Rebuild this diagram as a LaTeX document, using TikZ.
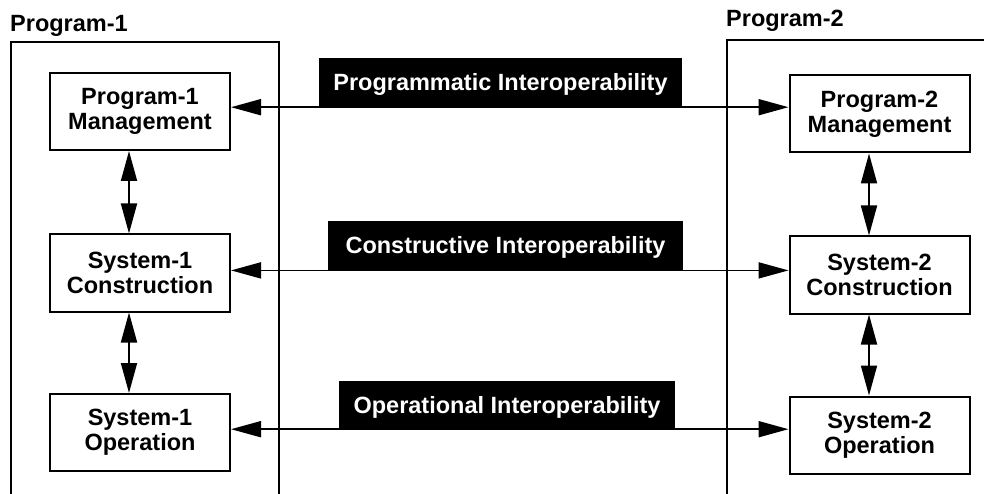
\documentclass[tikz,border=0pt]{standalone}
\usepackage{fontspec}
\setmainfont{Liberation Sans}
\usetikzlibrary{arrows.meta}
\begin{document}
\begin{tikzpicture}[x=1pt,y=-1pt,
  every node/.style={font=\fontsize{23.5}{25}\selectfont\bfseries},
  sysbox/.style={draw, line width=2pt, minimum width=180pt, minimum height=77pt, align=center, inner sep=0pt},
  tag/.style={fill=black, text=white, minimum height=49pt, inner sep=0pt, text height=16.5pt, text depth=0pt},
  link/.style={line width=1.8pt, {Triangle[length=30pt,width=16pt]}-{Triangle[length=30pt,width=16pt]}},
  frameline/.style={line width=1.7pt},
  title/.style={anchor=base west, inner sep=0pt}]
\useasboundingbox (0,0) rectangle (984,494);
% program frames
\draw[frameline] (11,494) -- (11,42) -- (279,42) -- (279,494);
\draw[frameline] (727,494) -- (727,40) -- (984,40);
\node[title] (L1) at (10,32) {Program-1};
\node[title] (L2) at (726,27) {Program-2};
% boxes
\node[sysbox] (P1M) at (140,111.5) {Program-1\\Management};
\node[sysbox] (S1C) at (140,273) {System-1\\Construction};
\node[sysbox] (S1O) at (140,432.5) {System-1\\Operation};
\node[sysbox] (P2M) at (879.5,114) {Program-2\\Management};
\node[sysbox] (S2C) at (879.5,275) {System-2\\Construction};
\node[sysbox] (S2O) at (879.5,435) {System-2\\Operation};
% tags
\node[tag, minimum width=363pt] (TP) at (500.5,82.5) {Programmatic Interoperability};
\node[tag, minimum width=355pt] (TC) at (505.5,245.7) {Constructive Interoperability};
\node[tag, minimum width=336pt, minimum height=48pt] (TO) at (507,405) {Operational Interoperability};
% horizontal links
\draw[link] (P1M.east |- TP.south) -- (P2M.west |- TP.south);
\draw[link] (S1C.east |- TC.south) -- (S2C.west |- TC.south);
\draw[link] (S1O.east |- TO.south) -- (S2O.west |- TO.south);
% vertical links
\draw[link] ([xshift=-11pt]P1M.south) -- ([xshift=-11pt]S1C.north);
\draw[link] ([xshift=-11pt]S1C.south) -- ([xshift=-11pt]S1O.north);
\draw[link] ([xshift=-10.5pt]P2M.south) -- ([xshift=-10.5pt]S2C.north);
\draw[link] ([xshift=-10.5pt]S2C.south) -- ([xshift=-10.5pt]S2O.north);
\end{tikzpicture}
\end{document}
